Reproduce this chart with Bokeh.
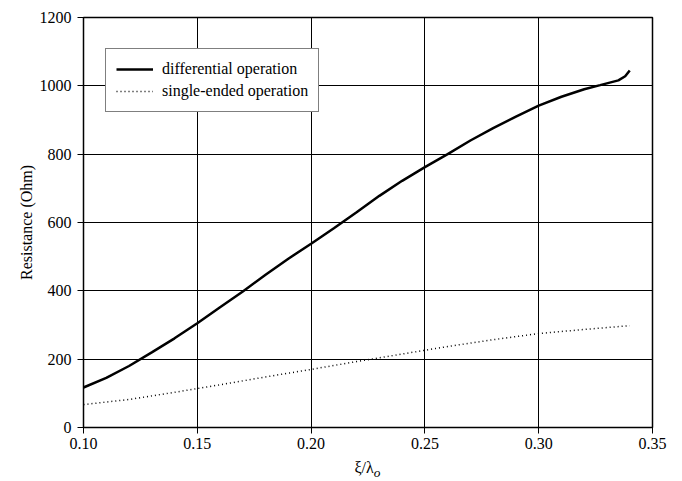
from bokeh.plotting import figure
from bokeh.models import FixedTicker, Legend, LegendItem, Range1d, Div
from bokeh.layouts import column
from bokeh.embed import file_html
from bokeh.resources import INLINE

diff_x = [0.10, 0.11, 0.12, 0.13, 0.14, 0.15, 0.16, 0.17, 0.18, 0.19, 0.20, 0.21, 0.22,
          0.23, 0.24, 0.25, 0.26, 0.27, 0.28, 0.29, 0.30, 0.31, 0.32, 0.327, 0.335, 0.338, 0.34]
diff_y = [117, 145, 180, 220, 261, 305, 352, 398, 447, 494, 538, 583, 630,
          678, 722, 762, 800, 840, 876, 910, 942, 968, 990, 1002, 1016, 1028, 1045]

single_x = [0.10, 0.12, 0.14, 0.16, 0.18, 0.20, 0.22, 0.24, 0.26, 0.28, 0.30, 0.32, 0.34]
single_y = [67, 82, 103, 125, 148, 170, 193, 215, 237, 257, 275, 287, 298]

x_ticks = [0.10, 0.15, 0.20, 0.25, 0.30, 0.35]
x_tick_labels = ["0.10", "0.15", "0.20", "0.25", "0.30", "0.35"]
y_ticks = [0, 200, 400, 600, 800, 1000, 1200]

FONT = "Liberation Serif"

p = figure(width=670, height=459, output_backend="svg", toolbar_location=None,
           x_range=Range1d(0.10, 0.35), y_range=Range1d(0, 1200),
           min_border_left=83, min_border_right=18, min_border_top=17, min_border_bottom=32)

p.outline_line_color = "black"
p.outline_line_width = 1.5
p.background_fill_color = "white"
p.border_fill_color = "white"

for ax in (p.xaxis[0], p.yaxis[0]):
    ax.axis_line_color = "black"
    ax.axis_line_width = 1
    ax.major_tick_line_color = "black"
    ax.major_tick_out = 6
    ax.major_tick_in = 0
    ax.minor_tick_line_color = None
    ax.major_label_text_font = FONT
    ax.major_label_text_font_size = "16px"
    ax.major_label_text_color = "black"

p.xaxis.ticker = FixedTicker(ticks=x_ticks)
p.xaxis.major_label_overrides = {t: l for t, l in zip(x_ticks, x_tick_labels)}
p.xaxis.major_label_standoff = 4
p.yaxis.ticker = FixedTicker(ticks=y_ticks)
p.yaxis.major_label_standoff = 6
p.yaxis.axis_label = "Resistance (Ohm)"
p.yaxis.axis_label_text_font = FONT
p.yaxis.axis_label_text_font_size = "16px"
p.yaxis.axis_label_text_font_style = "normal"
p.yaxis.axis_label_text_color = "black"
p.yaxis.axis_label_standoff = 2

p.xgrid.ticker = FixedTicker(ticks=x_ticks)
p.ygrid.ticker = FixedTicker(ticks=y_ticks)
for g in (p.xgrid[0], p.ygrid[0]):
    g.grid_line_color = "black"
    g.grid_line_width = 1
    g.grid_line_alpha = 1

r1 = p.line(diff_x, diff_y, line_color="black", line_width=2.5)
r2 = p.line(single_x, single_y, line_color="black", line_width=1.5, line_dash="1 3")

legend = Legend(items=[LegendItem(label="differential operation", renderers=[r1]),
                       LegendItem(label="single-ended operation", renderers=[r2])],
                location=(22, 315))
legend.label_text_font = FONT
legend.label_text_font_size = "16px"
legend.label_text_color = "black"
legend.border_line_color = "black"
legend.border_line_width = 1.5
legend.background_fill_color = "white"
legend.background_fill_alpha = 1
legend.padding = 10
legend.spacing = 2
legend.glyph_width = 37
legend.glyph_height = 20
legend.label_height = 20
legend.label_standoff = 9
legend.margin = 0
p.add_layout(legend, "center")

xlabel = Div(text="ξ/λ<sub><i>o</i></sub>", width=569, height=22, margin=(0, 0, 0, 83),
             styles={"font-family": FONT, "font-size": "16px", "color": "black",
                     "text-align": "center", "line-height": "18px", "width": "569px"})

layout = column(p, xlabel, spacing=0)

open("out.html", "w").write(file_html(layout, INLINE))
